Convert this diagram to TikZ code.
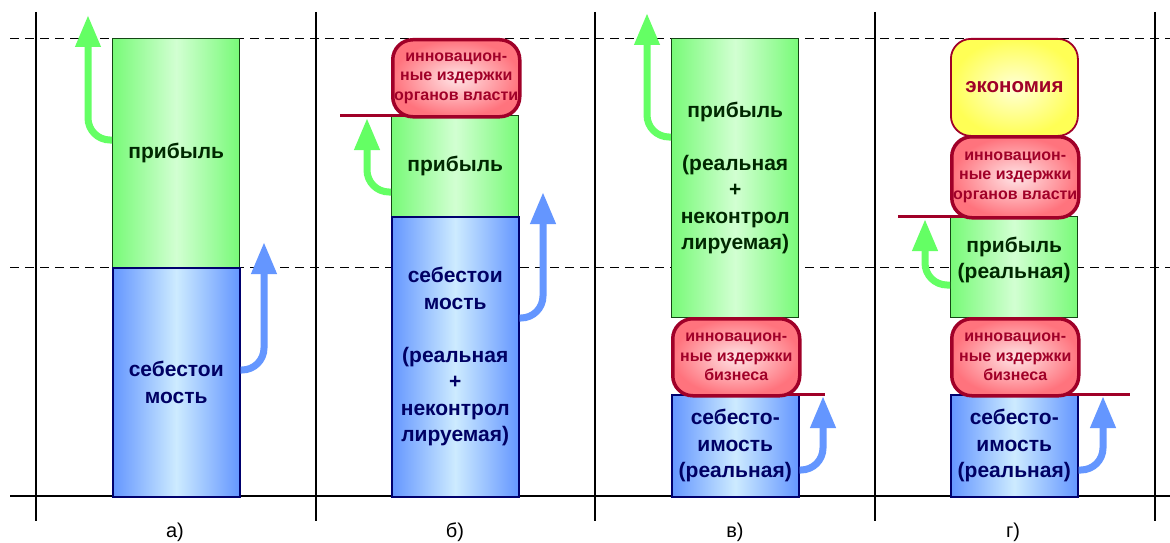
\documentclass[tikz,border=0pt]{standalone}
\usepackage{fontspec}
\setmainfont{Liberation Sans}
\usetikzlibrary{arrows.meta,calc}
\definecolor{gfill}{RGB}{120,250,120}
\definecolor{gmid}{RGB}{210,255,210}
\definecolor{gdraw}{RGB}{20,70,20}
\definecolor{gtext}{RGB}{0,40,0}
\definecolor{bfill}{RGB}{100,150,255}
\definecolor{bmid}{RGB}{205,235,255}
\definecolor{bdraw}{RGB}{0,0,110}
\definecolor{btext}{RGB}{0,0,100}
\definecolor{rfill}{RGB}{255,115,125}
\definecolor{rmid}{RGB}{255,228,230}
\definecolor{rdraw}{RGB}{160,0,40}
\definecolor{yfill}{RGB}{255,255,85}
\definecolor{ymid}{RGB}{255,255,215}
\definecolor{garr}{RGB}{100,255,100}
\definecolor{barr}{RGB}{100,150,255}
\tikzset{
  box/.style={minimum width=127pt, inner sep=0pt, align=center, anchor=north west,
    font=\bfseries\fontsize{21}{26.5}\selectfont},
  gbox/.style={box, left color=gfill, right color=gfill, middle color=gmid,
    draw=gdraw, line width=1.4pt, text=gtext},
  bbox/.style={box, left color=bfill, right color=bfill, middle color=bmid,
    draw=bdraw, line width=1.5pt, text=btext},
  rbox/.style={box, rounded corners=20pt, inner color=rmid, outer color=rfill,
    draw=rdraw, line width=3.5pt, text=rdraw,
    font=\bfseries\fontsize{16}{19.5}\selectfont},
  ybox/.style={box, rounded corners=20pt, inner color=ymid, outer color=yfill,
    draw=rdraw, line width=1.8pt, text=rdraw,
    font=\bfseries\fontsize{20.5}{24}\selectfont},
  garrow/.style={draw=garr, line width=7pt, rounded corners=22pt,
    -{Triangle[width=24pt,length=32pt]}},
  barrow/.style={draw=barr, line width=7pt, rounded corners=22pt,
    -{Triangle[width=24pt,length=32pt]}},
  level/.style={draw=rdraw, line width=3pt},
  grid/.style={line width=1.8pt},
  dashline/.style={line width=0.9pt, dash pattern=on 9pt off 6pt},
  lab/.style={font=\fontsize{20}{23}\selectfont}
}
\begin{document}
\begin{tikzpicture}[x=1pt,y=-1pt]
\useasboundingbox (0,0) rectangle (1170,543);
\fill[white] (0,0) rectangle (1170,543);
% grid
\foreach \x in {36,316,595,875,1155} \draw[grid] (\x,12) -- (\x,521);
\draw[grid] (10,496) -- (1170,496);
\draw[dashline] (10,38) -- (1170,38);
\draw[dashline] (10,267) -- (1170,267);
% coordinates for line ends and arrow tips
\coordinate (lb1) at (340,115);
\coordinate (lv) at (825,394);
\coordinate (lg1) at (898,216);
\coordinate (lg2) at (1130,394);
\coordinate (tga) at (88,15);
\coordinate (tba) at (264,242);
\coordinate (tgb) at (367,118);
\coordinate (tbb) at (543,192);
\coordinate (tgv) at (647,13);
\coordinate (tbv) at (823,396);
\coordinate (tgg) at (925,219);
\coordinate (tbg) at (1103,396);
% panel a
\node[gbox, minimum height=229pt] (ga) at (112,38) {прибыль};
\node[bbox, minimum height=229pt] (ba) at (112,267) {себестои\\мость};
% panel b
\node[gbox, minimum height=101pt] (gb) at (391,115) {прибыль};
\draw[level] (lb1) -- ($(gb.north west)+(22,0)$);
\node[bbox, minimum height=280pt] (bb) at (391,216) {себестои\\мость\\[26.5pt](реальная\\+\\неконтрол\\лируемая)};
\node[rbox, minimum height=77pt] (rb) at (391,38) {инновацион-\\ные издержки\\органов власти};
% panel v
\node[gbox, minimum height=279pt] (gv) at (671,38) {прибыль\\[26.5pt](реальная\\+\\неконтрол\\лируемая)};
\node[bbox, minimum height=102pt] (bv) at (671,394) {себесто-\\имость\\(реальная)};
\draw[level] ($(bv.north east)+(-22,0)$) -- (lv);
\node[rbox, minimum height=77pt] (rv) at (671,317) {инновацион-\\ные издержки\\бизнеса};
% panel g
\node[gbox, minimum height=101pt] (gg) at (950,216) {прибыль\\(реальная)\\[-8pt]\mbox{}};
\node[bbox, minimum height=102pt] (bg) at (950,394) {себесто-\\имость\\(реальная)};
\draw[level] (lg1) -- ($(gg.north west)+(22,0)$);
\draw[level] ($(bg.north east)+(-22,0)$) -- (lg2);
\node[ybox, minimum height=97pt] (yg) at (950,38) {экономия};
\node[rbox, minimum height=81pt] (rg1) at (950,135) {инновацион-\\ные издержки\\органов власти};
\node[rbox, minimum height=77pt] (rg2) at (950,317) {инновацион-\\ные издержки\\бизнеса};
% arrows
\draw[garrow] ($(ga.north west)+(0,102)$) -| (tga);
\draw[barrow] ($(ba.north east)+(0,103)$) -| (tba);
\draw[garrow] ($(gb.north west)+(0,77)$) -| (tgb);
\draw[barrow] ($(bb.north east)+(0,102)$) -| (tbb);
\draw[garrow] ($(gv.north west)+(0,99)$) -| (tgv);
\draw[barrow] ($(bv.north east)+(0,76)$) -| (tbv);
\draw[garrow] ($(gg.north west)+(0,69)$) -| (tgg);
\draw[barrow] ($(bg.north east)+(0,76)$) -| (tbg);
% labels
\node[lab] (la) at (175,532) {а)};
\node[lab] (lb) at (455,532) {б)};
\node[lab] (lc) at (735,532) {в)};
\node[lab] (ld) at (1013,532) {г)};
\end{tikzpicture}
\end{document}
